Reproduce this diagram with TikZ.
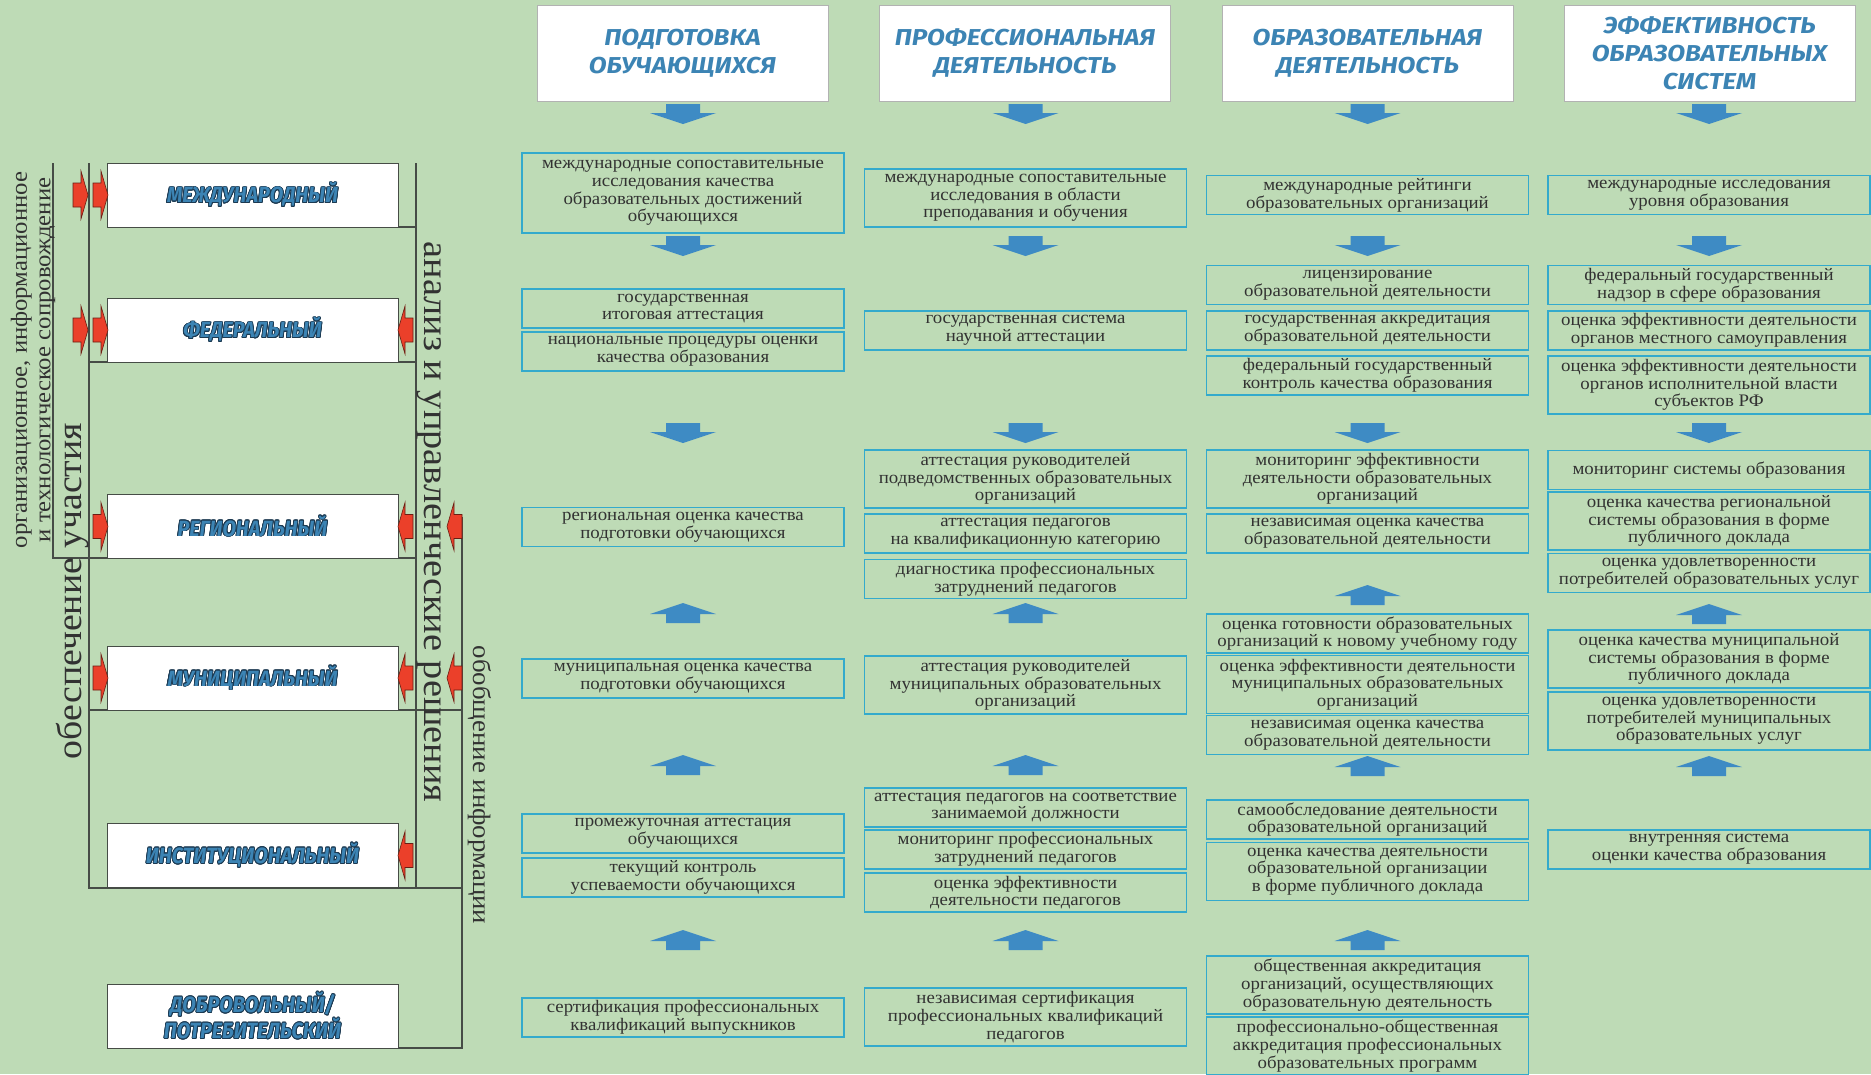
\documentclass[tikz,border=0pt]{standalone}
\usepackage{fontspec}
\setmainfont{Liberation Serif}[FakeStretch=1.07]
\newfontfamily\lvlfont{Fira Sans}[FakeStretch=0.9]
\newfontfamily\capsfont{Fira Sans}[FakeStretch=1.13]
\usepackage{contour}
\contourlength{0.8pt}
\usetikzlibrary{calc}

\definecolor{bggreen}{RGB}{190,219,182}
\definecolor{cellline}{RGB}{52,170,204}
\definecolor{celltext}{RGB}{50,50,50}
\definecolor{framegray}{RGB}{70,76,70}
\definecolor{arrblue}{RGB}{62,139,196}
\definecolor{redfill}{RGB}{235,64,42}
\definecolor{titleblue}{RGB}{60,132,180}
\definecolor{lvloutline}{RGB}{28,58,82}

\newcommand\cellfont{\fontsize{17.6}{17.7}\selectfont}
\newcommand\lvltext[1]{\contour{lvloutline}{#1}}

\tikzset{
  bluedown/.pic={\fill[arrblue] (-17,0) -- (17,0) -- (17,9) -- (33,9) -- (0,20) -- (-33,9) -- (-17,9) -- cycle;},
  blueup/.pic={\fill[arrblue] (0,0) -- (33,11) -- (17,11) -- (17,20) -- (-17,20) -- (-17,11) -- (-33,11) -- cycle;},
  redtip/.pic={\filldraw[fill=redfill, draw=redfill!45!black, line width=.6pt] (0,-12) -- (8,-12) -- (8,-24) -- (15,0) -- (8,24) -- (8,12) -- (0,12) -- cycle;}
}

\begin{document}
\begin{tikzpicture}[x=1pt, y=-1pt,
  cell/.style={draw=cellline, line width=1.6pt, minimum width=322pt, minimum height=39pt, inner sep=0pt, align=center, font=\cellfont, text=celltext},
  tall/.style={minimum height=58pt},
  level/.style={draw=framegray, line width=1pt, fill=white, minimum width=291pt, minimum height=64pt, inner sep=0pt, align=center, text=titleblue, font=\lvlfont\bfseries\itshape\fontsize{22}{24}\selectfont},
  head/.style={draw=black!30, line width=.8pt, fill=white, minimum width=291pt, minimum height=96pt, inner sep=0pt, align=center, text=titleblue, font=\capsfont\bfseries\itshape\fontsize{23}{28}\selectfont},
  frame/.style={draw=framegray, line width=1.3pt},
  side/.style={text=celltext, align=center, inner sep=0pt}]

\fill[bggreen] (0,0) rectangle (1871,1074);
\useasboundingbox (0,0) rectangle (1871,1074);

% brackets on the left
\draw[frame] (53,163) -- (53,558) -- (416,558);
\draw[frame] (89,163) -- (89,888) -- (462,888);
\draw[frame] (416,163) -- (416,888);
\draw[frame] (89,362) -- (416,362);
\draw[frame] (89,710) -- (462,710);
\draw[frame] (398,227) -- (416,227);
\draw[frame] (462,517) -- (462,1048) -- (398,1048);

% levels
\node[level] (mezh) at (252.5,195) {\lvltext{МЕЖДУНАРОДНЫЙ}};
\node[level] (fed)  at (252.5,330) {\lvltext{ФЕДЕРАЛЬНЫЙ}};
\node[level] (reg)  at (252.5,526.5) {\lvltext{РЕГИОНАЛЬНЫЙ}};
\node[level] (mun)  at (252.5,678) {\lvltext{МУНИЦИПАЛЬНЫЙ}};
\node[level] (inst) at (252.5,855.5) {\lvltext{ИНСТИТУЦИОНАЛЬНЫЙ}};
\node[level] (dobr) at (252.5,1016) {\lvltext{ДОБРОВОЛЬНЫЙ/}\\\lvltext{ПОТРЕБИТЕЛЬСКИЙ}};

\foreach \y in {195,330} \pic at (73,\y) {redtip};
\foreach \y in {195,330,526.5,678} \pic at (93,\y) {redtip};
\foreach \y in {330,526.5,678,855.5} \pic[rotate=180] at (413,\y) {redtip};
\foreach \y in {526.5,678} \pic[rotate=180] at (462,\y) {redtip};

\node[side, rotate=90, font=\fontsize{23.1}{23.5}\selectfont] (suppt) at (33,360) {организационное, информационное\\и технологическое сопровождение};
\node[side, rotate=90, font=\fontsize{35.3}{36}\selectfont] (provd) at (73,591) {обеспечение участия};
\node[side, rotate=-90, font=\fontsize{35.8}{36}\selectfont] (analys) at (429,522) {анализ и управленческие решения};
\node[side, rotate=-90, font=\fontsize{25.1}{26}\selectfont] (summ) at (480,785) {обобщение информации};

% headers
\node[head] (h1) at (682.5,53) {ПОДГОТОВКА\\ОБУЧАЮЩИХСЯ};
\node[head] (h2) at (1025,53) {ПРОФЕССИОНАЛЬНАЯ\\ДЕЯТЕЛЬНОСТЬ};
\node[head] (h3) at (1367.5,53) {ОБРАЗОВАТЕЛЬНАЯ\\ДЕЯТЕЛЬНОСТЬ};
\node[head] (h4) at (1709.5,53) {ЭФФЕКТИВНОСТЬ\\ОБРАЗОВАТЕЛЬНЫХ\\СИСТЕМ};

% blue arrows
\foreach \cx in {683,1025.5,1367.5,1709}
  \foreach \t in {104,236,423} \pic at (\cx,\t) {bluedown};
\foreach \cx/\t in {683/603,683/755,683/930,1025.5/603,1025.5/755,1025.5/930,1367.5/585,1367.5/756,1367.5/930,1709/604,1709/756}
  \pic at (\cx,\t) {blueup};

% column 1
\node[cell, minimum height=80pt] (p1) at (683,193) {международные сопоставительные\\исследования качества\\образовательных достижений\\обучающихся};
\node[cell] (p2) at (683,308.5) {государственная\\итоговая аттестация};
\node[cell] (p3) at (683,351.5) {национальные процедуры оценки\\качества образования};
\node[cell] (p4) at (683,527) {региональная оценка качества\\подготовки обучающихся};
\node[cell] (p5) at (683,678.5) {муниципальная оценка качества\\подготовки обучающихся};
\node[cell] (p6) at (683,833.5) {промежуточная аттестация\\обучающихся};
\node[cell] (p7) at (683,877.5) {текущий контроль\\успеваемости обучающихся};
\node[cell] (p8) at (683,1017.5) {сертификация профессиональных\\квалификаций выпускников};

% column 2
\node[cell, tall] (q1) at (1025.5,198) {международные сопоставительные\\исследования в области\\преподавания и обучения};
\node[cell] (q2) at (1025.5,330.5) {государственная система\\научной аттестации};
\node[cell, tall] (q3) at (1025.5,479) {аттестация руководителей\\подведомственных образовательных\\организаций};
\node[cell] (q4) at (1025.5,533.5) {аттестация педагогов\\на квалификационную категорию};
\node[cell] (q5) at (1025.5,579) {диагностика профессиональных\\затруднений педагогов};
\node[cell, tall] (q6) at (1025.5,685) {аттестация руководителей\\муниципальных образовательных\\организаций};
\node[cell] (q7) at (1025.5,807.5) {аттестация педагогов на соответствие\\занимаемой должности};
\node[cell] (q8) at (1025.5,849.5) {мониторинг профессиональных\\затруднений педагогов};
\node[cell] (q9) at (1025.5,892.5) {оценка эффективности\\деятельности педагогов};
\node[cell, tall] (q10) at (1025.5,1017) {независимая сертификация\\профессиональных квалификаций\\педагогов};

% column 3
\node[cell] (r1) at (1367.5,195) {международные рейтинги\\образовательных организаций};
\node[cell] (r2) at (1367.5,285) {лицензирование\\образовательной деятельности};
\node[cell] (r3) at (1367.5,330.5) {государственная аккредитация\\образовательной деятельности};
\node[cell] (r4) at (1367.5,375.5) {федеральный государственный\\контроль качества образования};
\node[cell, tall] (r5) at (1367.5,479) {мониторинг эффективности\\деятельности образовательных\\организаций};
\node[cell] (r6) at (1367.5,533.5) {независимая оценка качества\\образовательной деятельности};
\node[cell] (r7) at (1367.5,633.5) {оценка готовности образовательных\\организаций к новому учебному году};
\node[cell, tall] (r8) at (1367.5,684.5) {оценка эффективности деятельности\\муниципальных образовательных\\организаций};
\node[cell] (r9) at (1367.5,735) {независимая оценка качества\\образовательной деятельности};
\node[cell] (r10) at (1367.5,819.5) {самообследование деятельности\\образовательной организаций};
\node[cell, tall] (r11) at (1367.5,871.5) {оценка качества деятельности\\образовательной организации\\в форме публичного доклада};
\node[cell, tall] (r12) at (1367.5,985) {общественная аккредитация\\организаций, осуществляющих\\образовательную деятельность};
\node[cell, tall] (r13) at (1367.5,1046) {профессионально-общественная\\аккредитация профессиональных\\образовательных программ};

% column 4
\node[cell] (s1) at (1709,195) {международные исследования\\уровня образования};
\node[cell] (s2) at (1709,285) {федеральный государственный\\надзор в сфере образования};
\node[cell] (s3) at (1709,330.5) {оценка эффективности деятельности\\органов местного самоуправления};
\node[cell, tall] (s4) at (1709,385) {оценка эффективности деятельности\\органов исполнительной власти\\субъектов РФ};
\node[cell] (s5) at (1709,470) {мониторинг системы образования};
\node[cell, tall] (s6) at (1709,521) {оценка качества региональной\\системы образования в форме\\публичного доклада};
\node[cell] (s7) at (1709,573) {оценка удовлетворенности\\потребителей образовательных услуг};
\node[cell, tall] (s8) at (1709,659) {оценка качества муниципальной\\системы образования в форме\\публичного доклада};
\node[cell, tall] (s9) at (1709,721) {оценка удовлетворенности\\потребителей муниципальных\\образовательных услуг};
\node[cell] (s10) at (1709,849.5) {внутренняя система\\оценки качества образования};

\end{tikzpicture}
\end{document}
